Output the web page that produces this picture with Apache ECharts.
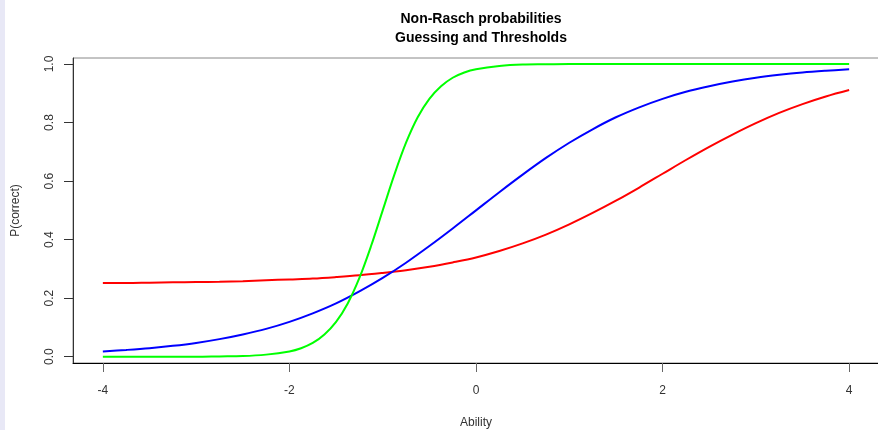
<!DOCTYPE html>
<html lang="en">
<head>
    <meta charset="UTF-8">
    <title>Non-Rasch probabilities</title>
    <style>
        html, body { margin: 0; padding: 0; background: #fff; }
        #chart_main { width: 878px; height: 430px; }
    </style>
</head>
<body>
<div id="chart_main"></div>
<script src="https://cdn.jsdelivr.net/npm/echarts@6/dist/echarts.min.js"></script>
<script>
    // values
    var ability = [-4, -3.75, -3.5, -3.25, -3, -2.75, -2.5, -2.25, -2, -1.75, -1.5, -1.25, -1, -0.75, -0.5, -0.25,
        0, 0.25, 0.5, 0.75, 1, 1.25, 1.5, 1.75, 2, 2.25, 2.5, 2.75, 3, 3.25, 3.5, 3.75, 4];
    var blueP = [0.018, 0.023, 0.029, 0.037, 0.047, 0.060, 0.076, 0.095, 0.119, 0.148, 0.182, 0.223, 0.269, 0.321, 0.378, 0.438,
        0.500, 0.562, 0.622, 0.679, 0.731, 0.777, 0.818, 0.852, 0.881, 0.905, 0.924, 0.940, 0.953, 0.963, 0.971, 0.977, 0.982];
    var redP = [0.252, 0.252, 0.253, 0.254, 0.255, 0.256, 0.258, 0.261, 0.264, 0.267, 0.272, 0.278, 0.286, 0.295, 0.307, 0.322,
        0.339, 0.361, 0.387, 0.417, 0.452, 0.491, 0.533, 0.578, 0.625, 0.672, 0.717, 0.759, 0.798, 0.833, 0.863, 0.889, 0.911];
    // green is steep, so it gets its own denser x values
    var abilityGreen = [-4, -3.5, -3, -2.75, -2.5, -2.25, -2, -1.875, -1.75, -1.625, -1.5, -1.375, -1.25, -1.125, -1,
        -0.875, -0.75, -0.625, -0.5, -0.375, -0.25, -0.125, 0, 0.25, 0.5, 0.75, 1, 1.5, 2, 3, 4];
    var greenP = [0.000, 0.000, 0.000, 0.001, 0.002, 0.007, 0.018, 0.029, 0.047, 0.076, 0.119, 0.182, 0.269, 0.378, 0.500,
        0.622, 0.731, 0.818, 0.881, 0.924, 0.953, 0.971, 0.982, 0.993, 0.998, 0.999, 1.000, 1.000, 1.000, 1.000, 1.000];
    var xTicks = [-4, -2, 0, 2, 4];
    var yTicks = [0, 0.2, 0.4, 0.6, 0.8, 1.0];

    function pairs(xs, ys) {
        var res = [];
        for (var i = 0; i < xs.length; i++) {
            res.push([xs[i], ys[i]]);
        }
        return res;
    }

    var myChart = echarts.init(document.getElementById('chart_main'));
    var lineOf = function (c) {
        return {
            type: 'line',
            smooth: 0.35,
            showSymbol: false,
            lineStyle: { color: c, width: 2 },
            itemStyle: { color: c }
        };
    };

    var red = lineOf('#ff0000');
    red.data = pairs(ability, redP);
    var blue = lineOf('#0000ff');
    blue.data = pairs(ability, blueP);
    var green = lineOf('#00ff00');
    green.data = pairs(abilityGreen, greenP);

    myChart.setOption({
        animation: false,
        textStyle: { fontFamily: 'Liberation Sans, Arial, sans-serif' },
        title: {
            text: 'Non-Rasch probabilities\nGuessing and Thresholds',
            left: 476,
            top: 5,
            textAlign: 'center',
            textStyle: { fontSize: 14, fontWeight: 'bold', color: '#000', lineHeight: 19 }
        },
        graphic: [{
            type: 'rect',
            left: 0, top: 0,
            shape: { width: 5, height: 430 },
            style: { fill: '#e8e8f6' }
        }],
        grid: {
            left: 73, top: 58, width: 806, height: 305,
            outerBoundsMode: 'none',
            containLabel: false,
            show: true, borderColor: '#888', borderWidth: 1
        },
        xAxis: {
            type: 'value',
            min: -4.32, max: 4.32,
            name: 'Ability',
            nameLocation: 'middle',
            nameGap: 54,
            nameTextStyle: { fontSize: 12, color: '#333' },
            axisLine: { show: true, onZero: false, lineStyle: { color: '#000', width: 1 } },
            axisTick: { show: true, length: 9, customValues: xTicks, lineStyle: { color: '#666' } },
            axisLabel: { customValues: xTicks, margin: 22, fontSize: 12, color: '#333' },
            splitLine: { show: false }
        },
        yAxis: {
            type: 'value',
            min: -0.0216, max: 1.0205,
            name: 'P(correct)',
            nameLocation: 'middle',
            nameGap: 51,
            nameTextStyle: { fontSize: 12, color: '#333' },
            axisLine: { show: true, onZero: false, lineStyle: { color: '#333', width: 1 } },
            axisTick: { show: true, length: 9, customValues: yTicks, lineStyle: { color: '#333' } },
            axisLabel: {
                customValues: yTicks, rotate: 90, margin: 17, fontSize: 12, color: '#333',
                formatter: function (v) { return v.toFixed(1); }
            },
            splitLine: { show: false }
        },
        series: [red, blue, green]
    });
</script>
</body>
</html>
